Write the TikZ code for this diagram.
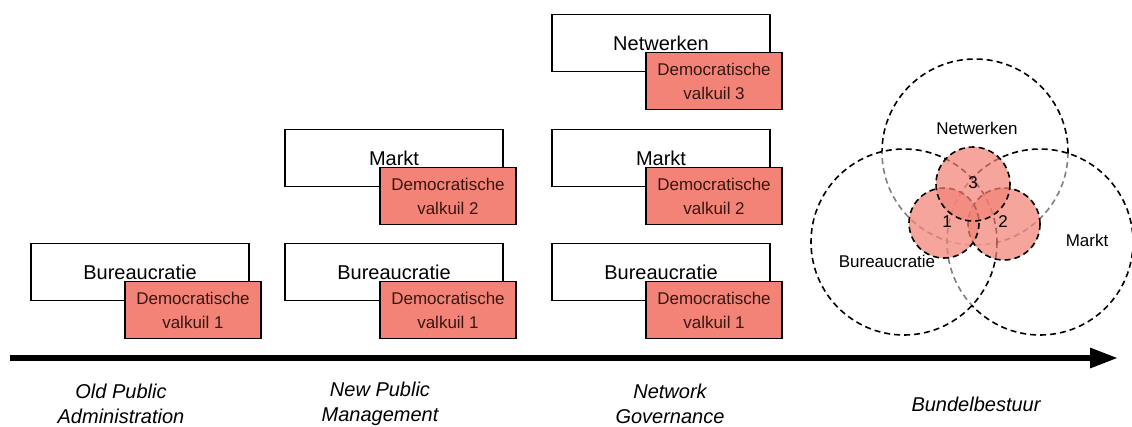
\documentclass[tikz,border=0pt]{standalone}
\usepackage{fontspec}
\setmainfont{Liberation Sans}
\usetikzlibrary{arrows.meta}

\definecolor{zalm}{RGB}{243,131,119}
\definecolor{donker}{RGB}{55,22,18}

\tikzset{
  blok/.style={draw=black, line width=1.6pt, fill=white, inner sep=0pt,
    minimum width=218pt, minimum height=57pt, font=\fontsize{20}{24}\selectfont},
  valkuil/.style={draw=black, line width=1.6pt, fill=zalm, inner sep=0pt, align=center,
    minimum width=136pt, minimum height=57pt, text=donker, font=\fontsize{17}{24}\selectfont},
  periode/.style={align=center, inner sep=0pt, font=\fontsize{20}{25}\selectfont\itshape},
  kring/.style={draw=black, line width=1.6pt, dash pattern=on 6pt off 4pt,
    fill=white, fill opacity=0.5},
  kleinekring/.style={draw=black, line width=1.6pt, dash pattern=on 6pt off 4pt,
    fill=zalm, fill opacity=0.72},
  venn/.style={inner sep=0pt, font=\fontsize{17}{20}\selectfont}
}

\begin{document}
\begin{tikzpicture}[x=1pt, y=-1pt]
\useasboundingbox (0,0) rectangle (1132,426);

% Old Public Administration
\node[blok] (bur1) at (140, 272) {Bureaucratie};
\node[valkuil] (dv1a) at (193, 310) {Democratische\\valkuil 1};

% New Public Management
\node[blok] (mkt2) at (394, 158) {Markt};
\node[valkuil] (dv2b) at (448, 196) {Democratische\\valkuil 2};
\node[blok] (bur2) at (394, 272) {Bureaucratie};
\node[valkuil] (dv1b) at (448, 310) {Democratische\\valkuil 1};

% Network Governance
\node[blok] (net3) at (661, 43) {Netwerken};
\node[valkuil] (dv3c) at (714, 81) {Democratische\\valkuil 3};
\node[blok] (mkt3) at (661, 158) {Markt};
\node[valkuil] (dv2c) at (714, 196) {Democratische\\valkuil 2};
\node[blok] (bur3) at (661, 272) {Bureaucratie};
\node[valkuil] (dv1c) at (714, 310) {Democratische\\valkuil 1};

% Bundelbestuur
\draw[kring] (975, 152) circle[radius=93];
\draw[kring] (1040, 242) circle[radius=93];
\draw[kring] (904, 242) circle[radius=93];

\draw[kleinekring] (1004, 224) circle[radius=36];
\draw[kleinekring] (944, 223) circle[radius=35];
\draw[kleinekring] (973, 184) circle[radius=37];

\node[venn] (netlabel) at (977, 128) {Netwerken};
\node[venn] (mktlabel) at (1087, 240) {Markt};
\node[venn] (burlabel) at (887, 261) {Bureaucratie};
\node[venn] (v3) at (973, 183) {3};
\node[venn] (v1) at (947, 222) {1};
\node[venn] (v2) at (1003, 222) {2};

% tijdlijn
\coordinate (begin) at (10, 358);
\coordinate (eind) at (1118, 358);
\draw[line width=6pt, -{Triangle[length=28pt, width=19pt]}] (begin) -- (eind);

\node[periode] (opa) at (121, 404) {Old Public\\Administration};
\node[periode] (npm) at (380, 404) {New Public\\Management};
\node[periode] (ng) at (670, 404) {Network\\Governance};
\node[periode] (bb) at (976, 404) {Bundelbestuur};
\end{tikzpicture}
\end{document}
